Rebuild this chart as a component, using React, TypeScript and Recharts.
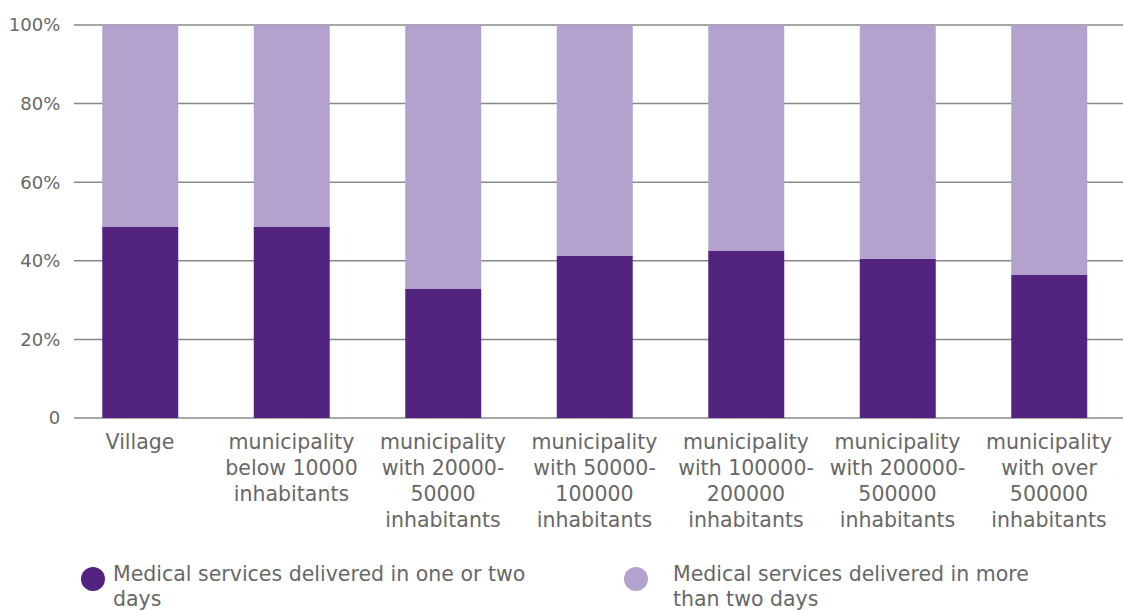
import React from "react";
import { BarChart, Bar, XAxis, YAxis, CartesianGrid, Legend } from "recharts";

const categories = [
  "Village",
  "municipality\nbelow 10000\ninhabitants",
  "municipality\nwith 20000-\n50000\ninhabitants",
  "municipality\nwith 50000-\n100000\ninhabitants",
  "municipality\nwith 100000-\n200000\ninhabitants",
  "municipality\nwith 200000-\n500000\ninhabitants",
  "municipality\nwith over\n500000\ninhabitants",
];
const oneOrTwoDays = [48.6, 48.6, 32.8, 41.2, 42.5, 40.5, 36.4];
const moreThanTwoDays = [51.4, 51.4, 67.2, 58.8, 57.5, 59.5, 63.9];
const yTicks = [0, 20, 40, 60, 80, 100];
const seriesNames = [
  "Medical services delivered in one or two\ndays",
  "Medical services delivered in more\nthan two days",
];

const COLORS = ["#52247f", "#b3a1ce"];
const FONT = "'DejaVu Sans', sans-serif";
const TEXT_COLOR = "#686868";

const data = categories.map((c, i) => ({
  category: c,
  a: oneOrTwoDays[i],
  b: moreThanTwoDays[i],
}));

const XTick = (props: any) => {
  const { x, y, payload } = props;
  const lines = String(payload.value).split("\n");
  return (
    <text
      x={x}
      y={y}
      textAnchor="middle"
      fill={TEXT_COLOR}
      fontFamily={FONT}
      fontSize={20.5}
    >
      {lines.map((l: string, i: number) => (
        <tspan key={i} x={x} y={y + 31 + i * 26}>
          {l}
        </tspan>
      ))}
    </text>
  );
};

const GridLine = (props: any) => (
  <line
    x1={74}
    x2={1123}
    y1={props.y1}
    y2={props.y2}
    stroke="#888"
    strokeWidth={1.5}
  />
);

const LegendContent = () => {
  const lefts = [81, 624];
  const gaps = [8, 25];
  return (
    <div style={{ position: "relative", width: 1123, height: 50 }}>
      {seriesNames.map((name, i) => (
        <div
          key={i}
          style={{
            position: "absolute",
            left: lefts[i],
            top: 0,
            display: "flex",
            alignItems: "flex-start",
          }}
        >
          <div
            style={{
              width: 24,
              height: 24,
              borderRadius: 12,
              background: COLORS[i],
              marginTop: 5,
              flex: "none",
            }}
          />
          <div
            style={{
              marginLeft: gaps[i],
              whiteSpace: "pre-line",
              fontFamily: FONT,
              fontSize: 20.5,
              lineHeight: "25px",
              color: TEXT_COLOR,
            }}
          >
            {name}
          </div>
        </div>
      ))}
    </div>
  );
};

export default function App() {
  return (
    <div
      style={{
        position: "absolute",
        left: 0,
        top: 0,
        width: 1123,
        height: 610,
        overflow: "hidden",
        background: "#fff",
      }}
    >
      <BarChart
        width={1130}
        height={610}
        data={data}
        margin={{ top: 25, right: 5.25, left: 0, bottom: 0 }}
        barSize={76}
      >
        <CartesianGrid vertical={false} horizontal={<GridLine />} />
        <XAxis
          dataKey="category"
          axisLine={false}
          tickLine={false}
          tickSize={0}
          tickMargin={0}
          interval={0}
          height={192}
          tick={<XTick />}
        />
        <YAxis
          width={64.25}
          domain={[0, 100]}
          allowDataOverflow
          ticks={yTicks}
          axisLine={false}
          tickLine={false}
          tickSize={0}
          tickMargin={4}
          tickFormatter={(v: number) => (v === 0 ? "0" : `${v}%`)}
          tick={{ fill: TEXT_COLOR, fontFamily: FONT, fontSize: 18 }}
        />
        <Legend
          layout="horizontal"
          verticalAlign="middle"
          align="center"
          wrapperStyle={{ top: 562, left: 0, width: 1123 }}
          content={<LegendContent />}
        />
        <Bar dataKey="a" stackId="s" fill={COLORS[0]} name={seriesNames[0]} isAnimationActive={false} />
        <Bar dataKey="b" stackId="s" fill={COLORS[1]} name={seriesNames[1]} isAnimationActive={false} />
      </BarChart>
    </div>
  );
}
